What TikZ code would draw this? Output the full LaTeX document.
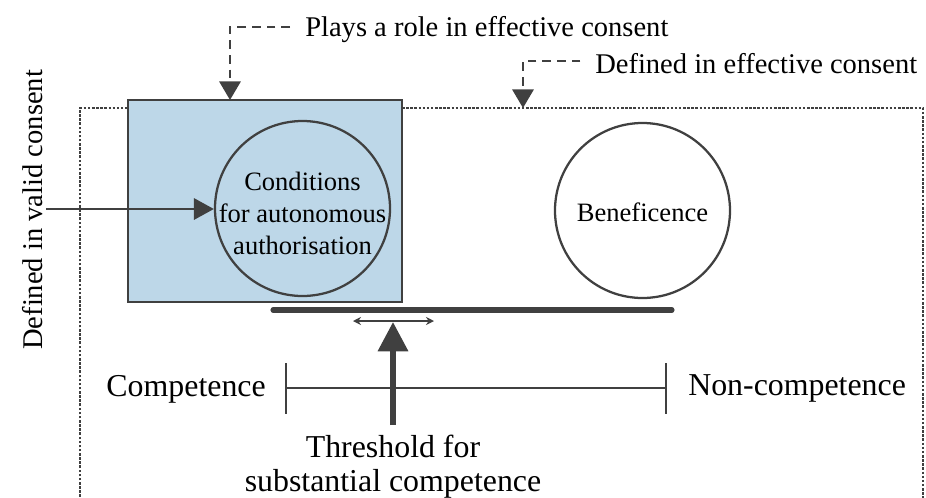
\documentclass[tikz,border=0pt]{standalone}
\usepackage{fontspec}
\setmainfont{Liberation Serif}
\usetikzlibrary{arrows.meta}
\definecolor{dk}{HTML}{404040}
\definecolor{bl}{HTML}{BDD7E8}
\begin{document}
\begin{tikzpicture}[x=0.75pt,y=-0.75pt,
  toplbl/.style={font=\fontsize{21.4}{25}\selectfont, inner sep=0pt},
  botlbl/.style={font=\fontsize{23.9}{25.5}\selectfont, inner sep=0pt},
  circlbl/.style={font=\fontsize{19.9}{24}\selectfont, align=center, inner sep=0pt},
  ball/.style={circle, draw=dk, line width=1.7pt, minimum size=131.25pt, inner sep=0pt},
  dasharrow/.style={draw=dk, line width=1.8pt, dash pattern=on 6.5pt off 4.5pt,
    -{Triangle[length=14pt,width=16pt]}},
  solidarrow/.style={draw=dk, line width=1.8pt, -{Triangle[length=15pt,width=16pt]}},
  dotbox/.style={draw=dk, line width=1.5pt, dash pattern=on 1.9pt off 1.2pt},
  beam/.style={draw=dk, line width=3.8pt, line cap=round},
  scaleline/.style={draw=dk, line width=1.7pt},
  bigarrow/.style={draw=dk, line width=4.2pt, -{Triangle[length=22pt,width=22pt]}},
  smallarrow/.style={draw=dk, line width=1.3pt, {Stealth[length=6pt,width=6pt]}-{Stealth[length=6pt,width=6pt]}}
]
\clip (0,0) rectangle (926,497);
% outer dotted frame (defined in effective consent)
\draw[dotbox] (80,530) -- (80,108) -- (923,108) -- (923,530);
\coordinate (frametop) at (523,108);
% blue box
\node[draw=dk, fill=bl, line width=1.8pt, minimum width=205.5pt, minimum height=151.5pt,
      inner sep=0pt] (box) at (265,201) {};
% circles
\node[ball] (cond) at (302.5,208.5) {};
\node[circlbl] (condtxt) at (302.5,213) {Conditions\\for autonomous\\authorisation};
\node[ball] (benef) at (642.5,210.5) {};
\node[circlbl] (beneftxt) at (642.5,212) {Beneficence};
% top labels
\node[toplbl, anchor=base west] (plays) at (305,36) {Plays a role in effective consent};
\node[toplbl, anchor=base west] (defeff) at (595,73) {Defined in effective consent};
\node[toplbl, anchor=base west, rotate=90] (defvalid) at (42,350) {Defined in valid consent};
\coordinate (boxtop) at (230,100);
\draw[dasharrow] ([xshift=-11.25pt,yshift=1.5pt]plays.west) -| (boxtop);
\draw[dasharrow] ([xshift=-11pt,yshift=1.5pt]defeff.west) -| (frametop);
% left arrow
\coordinate (leftstart) at (46,209);
\draw[solidarrow] (leftstart) -- (cond.west |- leftstart);
% beam
\coordinate (beamL) at (273,310);
\coordinate (beamR) at (672,310);
\draw[beam] (beamL) -- (beamR);
\coordinate (slideL) at (353,321);
\coordinate (slideR) at (434,321);
\draw[smallarrow] (slideL) -- (slideR);
% scale
\coordinate (scL) at (286,388);
\coordinate (scR) at (666,388);
\draw[scaleline] (scL) -- (scR);
\draw[scaleline] (286,363) -- (286,414);
\draw[scaleline] (666,363) -- (666,414);
\node[botlbl, anchor=base east] (comp) at (266,396) {Competence};
\node[botlbl, anchor=base west] (noncomp) at (688,395) {Non-competence};
% threshold
\node[botlbl, anchor=base, align=center] (thr) at (393,491) {Threshold for\\substantial competence};
\coordinate (thrbase) at (393,425);
\coordinate (thrtip) at (393,322);
\draw[bigarrow] (thrbase) -- (thrtip);
\end{tikzpicture}
\end{document}
